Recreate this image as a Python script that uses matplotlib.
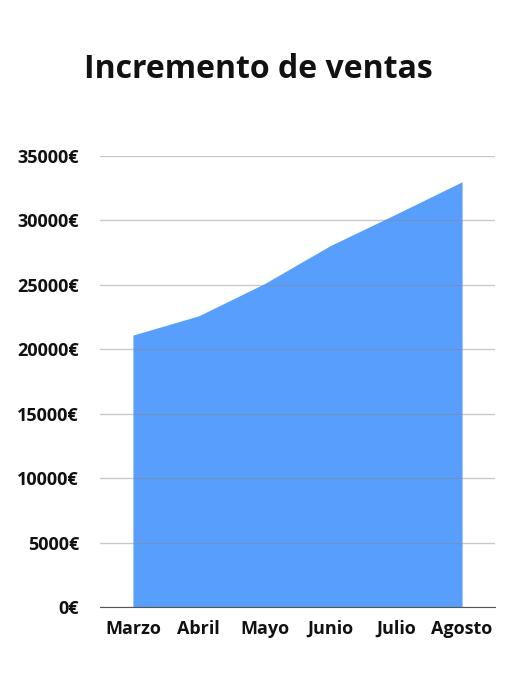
import matplotlib.pyplot as plt
from matplotlib.ticker import FuncFormatter

months = ["Marzo", "Abril", "Mayo", "Junio", "Julio", "Agosto"]
ventas = [21100, 22600, 25100, 28050, 30500, 33000]
y_ticks = [0, 5000, 10000, 15000, 20000, 25000, 30000, 35000]

plt.rcParams['font.family'] = ['Open Sans', 'DejaVu Sans']

fig = plt.figure(figsize=(5.16, 6.86), dpi=100)
ax = fig.add_axes([100 / 516, 79 / 686, 395 / 516, 451 / 686])

x = list(range(len(months)))
ax.fill_between(x, ventas, 0, color="#589ffd", linewidth=0, zorder=1)

ax.set_xlim(-0.5, len(months) - 0.5)
ax.set_ylim(0, 35000)
ax.set_yticks(y_ticks)
ax.yaxis.set_major_formatter(FuncFormatter(lambda v, p: f"{int(v)}€"))
ax.set_xticks(x)
ax.set_xticklabels(months)

for lbl in ax.get_xticklabels() + ax.get_yticklabels():
    lbl.set_fontweight("bold")
    lbl.set_fontsize(13)
    lbl.set_color("#111111")

ax.tick_params(axis="both", length=0)
ax.tick_params(axis="y", pad=15)
ax.tick_params(axis="x", pad=9)

ax.grid(axis="y", color="#888888", alpha=0.45, linewidth=1, zorder=2)
ax.set_axisbelow(False)
for s in ["top", "right", "left"]:
    ax.spines[s].set_visible(False)
ax.spines["bottom"].set_color("#555555")
ax.spines["bottom"].set_zorder(3)

fig.text(0.5, 1 - 70 / 686, "Incremento de ventas", ha="center", va="center",
         fontsize=23, fontweight="bold", color="#111111")

fig.savefig("out.png", dpi=100)
